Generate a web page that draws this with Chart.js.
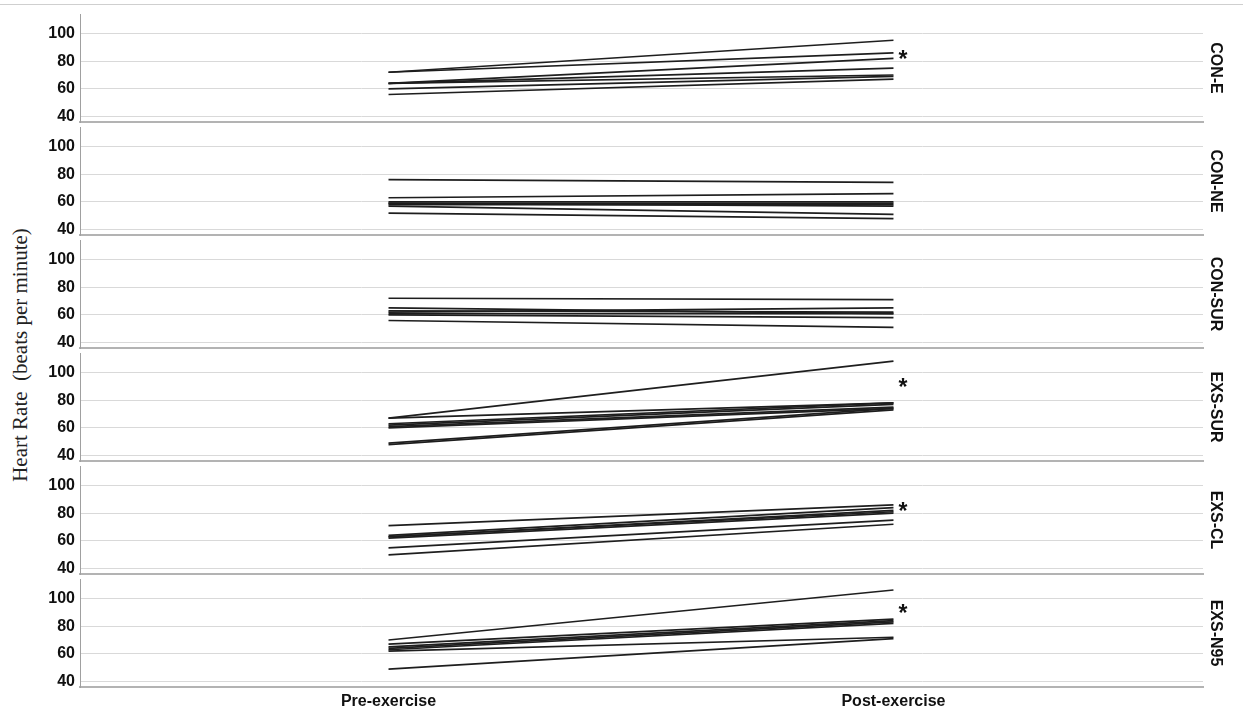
<!DOCTYPE html>
<html>
<head>
<meta charset="utf-8">
<script src="https://cdn.jsdelivr.net/npm/chart.js@4/dist/chart.umd.min.js"></script>
<style>
	html, body { margin: 0; padding: 0; background: #fff; }
	#wrap { position: relative; width: 1243px; height: 710px; overflow: hidden; }
	#topline { position: absolute; left: 0; top: 4px; width: 1243px; height: 0; border-top: 1px solid #cfcfcf; }
	#ytitle {
		position: absolute; left: 20px; top: 355px;
		transform: translate(-50%, -50%) rotate(-90deg);
		font: 21px "Liberation Serif", serif; color: #222; white-space: pre;
	}
	canvas { position: absolute; left: 0; }
</style>
</head>
<body>
<div id="wrap">
	<div id="topline"></div>
	<div id="ytitle">Heart Rate  (beats per minute)</div>
</div>
<script>
const timePoints = [ 'Pre-exercise', 'Post-exercise' ];
const groups = [ 'CON-E', 'CON-NE', 'CON-SUR', 'EXS-SUR', 'EXS-CL', 'EXS-N95' ];
const yTicks = [ 40, 60, 80, 100 ];

// one entry per participant, pre and post
const conEPre = [ 72, 72, 64, 64, 64, 60, 56 ];
const conEPost = [ 95, 86, 82, 75, 70, 69, 67 ];
const conNEPre = [ 76, 63, 60, 59, 59, 58, 57, 52 ];
const conNEPost = [ 74, 66, 60, 59, 57, 58, 51, 48 ];
const conSURPre = [ 72, 65, 63, 62, 61, 60, 56 ];
const conSURPost = [ 71, 61, 62, 65, 61, 58, 51 ];
const exsSURPre = [ 67, 67, 63, 62, 61, 60, 49, 48 ];
const exsSURPost = [ 108, 78, 78, 77, 75, 74, 74, 73 ];
const exsCLPre = [ 71, 64, 63, 63, 62, 55, 50 ];
const exsCLPost = [ 86, 84, 82, 81, 80, 75, 72 ];
const exsN95Pre = [ 70, 67, 65, 64, 63, 62, 49 ];
const exsN95Post = [ 106, 85, 84, 83, 82, 72, 71 ];

// significance marks (heart rate level of the asterisk), null = none
const stars = [ 83, null, null, 91, 83, 91 ];

const preValues = [ conEPre, conNEPre, conSURPre, exsSURPre, exsCLPre, exsN95Pre ];
const postValues = [ conEPost, conNEPost, conSURPost, exsSURPost, exsCLPost, exsN95Post ];

const FONT = '"Liberation Sans", Arial, sans-serif';

const panelDecor = {
	id: 'panelDecor',
	afterDatasetsDraw( chart, args, opts ) {
		const { ctx, chartArea, scales } = chart;

		ctx.save();
		ctx.font = 'bold 16px ' + FONT;
		ctx.fillStyle = '#111';
		ctx.translate( chartArea.right + 12, ( chartArea.top + chartArea.bottom ) / 2 );
		ctx.rotate( Math.PI / 2 );
		ctx.textAlign = 'center';
		ctx.textBaseline = 'middle';
		ctx.fillText( opts.label, 0, 0 );
		ctx.restore();

		if ( opts.star !== null ) {
			ctx.save();
			ctx.font = 'bold 23px ' + FONT;
			ctx.fillStyle = '#111';
			ctx.textAlign = 'left';
			ctx.textBaseline = 'alphabetic';
			ctx.fillText( '*', scales.x.getPixelForValue( 2 ) + 5, scales.y.getPixelForValue( opts.star ) + 10 );
			ctx.restore();
		}
	},
};

const wrap = document.getElementById( 'wrap' );

groups.forEach( ( group, i ) => {
	const last = i === groups.length - 1;
	const canvas = document.createElement( 'canvas' );
	canvas.width = 1243;
	canvas.height = last ? 135 : 116;
	canvas.style.top = ( 10 + 113 * i ) + 'px';
	wrap.appendChild( canvas );

	const datasets = preValues[ i ].map( ( pre, j ) => ( {
		data: [
			{ x: 1, y: pre },
			{ x: 2, y: postValues[ i ][ j ] },
		],
		borderColor: '#1e1e1e',
		borderWidth: 1.7,
		pointRadius: 0,
		tension: 0,
	} ) );

	new Chart( canvas.getContext( '2d' ), {
		type: 'line',
		data: { datasets: datasets },
		options: {
			responsive: false,
			animation: false,
			layout: { padding: { left: 0, right: 40, top: 4, bottom: last ? 0 : 4 } },
			plugins: {
				legend: { display: false },
				tooltip: { enabled: false },
				panelDecor: { label: group, star: stars[ i ] },
			},
			scales: {
				x: {
					type: 'linear',
					min: 0.389,
					max: 2.613,
					afterBuildTicks: s => { s.ticks = [ { value: 1 }, { value: 2 } ]; },
					afterFit: s => {
						s.height = last ? 23 : 0;
						s.paddingLeft = 0;
						s.paddingRight = 0;
					},
					grid: { display: false, drawTicks: false },
					border: { display: true, color: '#b3b3b3', width: 2 },
					ticks: {
						display: last,
						padding: 5,
						maxRotation: 0,
						color: '#111',
						font: { family: FONT, size: 16, weight: 'bold' },
						callback: v => timePoints[ v - 1 ],
					},
				},
				y: {
					min: 36.2,
					max: 113.9,
					afterBuildTicks: s => { s.ticks = yTicks.map( v => ( { value: v } ) ); },
					afterFit: s => {
						s.width = 80;
						s.paddingTop = 0;
						s.paddingBottom = 0;
					},
					grid: { color: '#d9d9d9', lineWidth: 1, drawTicks: false },
					border: { display: true, color: '#a0a0a0', width: 1 },
					ticks: {
						padding: 5,
						color: '#111',
						font: { family: FONT, size: 16, weight: 'bold' },
					},
				},
			},
		},
		plugins: [ panelDecor ],
	} );
} );
</script>
</body>
</html>
